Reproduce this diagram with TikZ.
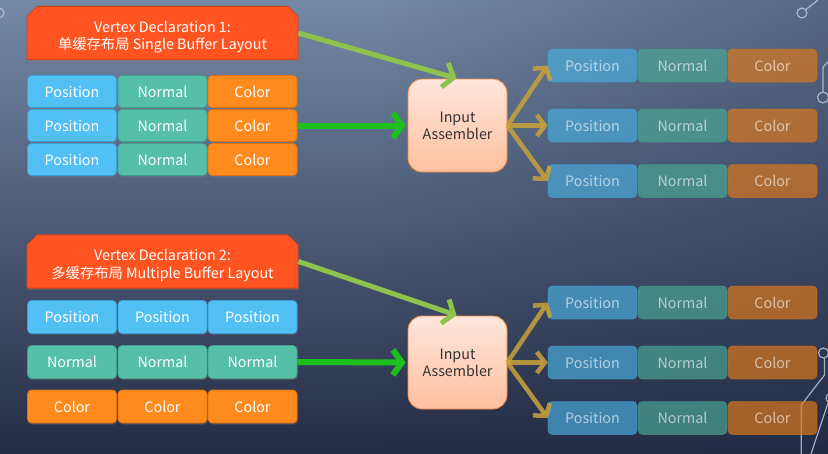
\documentclass[tikz,border=0pt]{standalone}
\usepackage{fontspec}
\setmainfont{Noto Sans CJK SC}
\usetikzlibrary{arrows.meta,shapes.misc,shadows,fadings}
\definecolor{bgtop}{HTML}{7389A6}
\definecolor{bgmid}{HTML}{506586}
\definecolor{bgbot}{HTML}{252C45}
\definecolor{bgdark}{HTML}{1E2948}
\definecolor{hdrfill}{HTML}{FF5421}
\definecolor{hdrdraw}{HTML}{D8401A}
\definecolor{posfill}{HTML}{52C0F4}
\definecolor{posdraw}{HTML}{3AA0D8}
\definecolor{norfill}{HTML}{55BFA8}
\definecolor{nordraw}{HTML}{3FA08C}
\definecolor{colfill}{HTML}{FF8A1D}
\definecolor{coldraw}{HTML}{E07010}
\definecolor{iatop}{HTML}{FFE6DC}
\definecolor{iabot}{HTML}{FFC0A0}
\definecolor{iadraw}{HTML}{F0883C}
\definecolor{arrgreen}{HTML}{1DBF1D}
\definecolor{arrlight}{HTML}{8DC24C}
\definecolor{arrgold}{HTML}{C9A23A}
\definecolor{decocol}{HTML}{B4C8E0}
\tikzfading[name=tordark, left color=transparent!100, right color=transparent!0]
\newcommand{\hdrtext}[2]{\begin{tabular}{@{}c@{}}\rule{0pt}{21pt}#1\\#2\end{tabular}}
\tikzset{
  cellbox/.style={rounded corners=4pt, minimum width=89pt, minimum height=32pt, inner sep=0pt,
    text height=12pt, text depth=0.5pt,
    text=white, font=\fontsize{14.3}{16}\selectfont, line width=0.6pt},
  shad/.style={drop shadow={shadow xshift=0.8pt, shadow yshift=-1.5pt, opacity=0.35}},
  poscell/.style={cellbox, shad, fill=posfill, draw=posdraw},
  norcell/.style={cellbox, shad, fill=norfill, draw=nordraw},
  colcell/.style={cellbox, shad, fill=colfill, draw=coldraw},
  fadedcell/.style={fill opacity=0.68, draw opacity=0.5, text opacity=0.6, minimum height=33pt},
  fposcell/.style={cellbox, fadedcell, fill=posfill!90!black, draw=posdraw},
  fnorcell/.style={cellbox, fadedcell, fill=norfill!88!black, draw=nordraw},
  fcolcell/.style={cellbox, fadedcell, fill=colfill!88!black, draw=coldraw},
  hdrbox/.style={chamfered rectangle, chamfered rectangle corners={north west,north east},
    chamfered rectangle xsep=5pt, chamfered rectangle ysep=5pt, inner sep=0pt,
    minimum width=271pt, minimum height=50pt, fill=hdrfill, draw=hdrdraw, line width=0.8pt,
    text=white, font=\fontsize{14.3}{17}\selectfont,
    drop shadow={shadow xshift=0.8pt, shadow yshift=-2pt, opacity=0.35}},
  iabox/.style={rounded corners=14pt, minimum width=99pt, minimum height=93pt, inner sep=0pt,
    top color=iatop, bottom color=iabot, draw=iadraw, line width=0.8pt,
    text=black!80, align=center, font=\fontsize{14.3}{17}\selectfont},
  garrow/.style={draw=arrgreen, line width=6pt, shorten >=2pt,
    -{Straight Barb[length=9pt,width=25pt]}},
  larrow/.style={draw=arrlight, line width=5pt, shorten >=1pt,
    -{Straight Barb[length=9pt,width=25pt]}},
  oarrow/.style={draw=arrgold, draw opacity=0.85, line width=4.5pt,
    -{Straight Barb[length=8pt,width=21pt]}},
  deco/.style={draw=decocol, draw opacity=0.85, line width=1.2pt}
}
\begin{document}
\begin{tikzpicture}[x=1pt,y=-1pt]
\useasboundingbox (0,0) rectangle (828,453);
% background
\shade[top color=bgtop, middle color=bgmid, bottom color=bgbot] (0,0) rectangle (828,453);
\fill[bgdark, fill opacity=0.35, path fading=tordark] (380,0) rectangle (828,453);
% decorations
\draw[deco] (-1,13) circle (5);
\draw[deco] (802,13) circle (5);
\draw[deco] (806,9.5) -- (818,0);
\draw[deco] (829,61) -- (823,67) -- (823,92);
\draw[deco] (823,97.5) circle (5.5);
\draw[deco] (823.5,353) circle (5);
\draw[deco] (824.5,358) -- (824.5,375) -- (801.3,405) -- (801.3,454);
\draw[deco] (831,398) circle (5);
\draw[deco] (828,403) -- (811,454);
% ===== block 1 =====
\node[hdrbox] (h1) at (162.5,33) {\hdrtext{Vertex Declaration 1:}{单缓存布局 Single Buffer Layout}};
\foreach \y [count=\i] in {91.5,125.5,159.5}{
  \node[poscell] (pa\i) at (72,\y) {Position};
  \node[norcell] (na\i) at (162.5,\y) {Normal};
  \node[colcell] (ca\i) at (252.5,\y) {Color};
}
\node[iabox] (ia1) at (457.5,125.5) {Input\\Assembler};
\foreach \y [count=\i] in {65.5,125.5,181}{
  \node[fposcell] (ra\i) at (592.5,\y) {Position};
  \node[fnorcell] (sa\i) at (682.5,\y) {Normal};
  \node[fcolcell] (ta\i) at (772.5,\y) {Color};
}
\draw[larrow] (h1.east) -- (ia1.north);
\draw[garrow] (ca2.east) -- (ia1.west);
\foreach \i in {1,2,3}{
  \draw[oarrow] (ia1.east) -- (ra\i.west);
}
% ===== block 2 =====
\node[hdrbox] (h2) at (162.5,261.5) {\hdrtext{Vertex Declaration 2:}{多缓存布局 Multiple Buffer Layout}};
\foreach \x [count=\i] in {72,162.5,252.5}{
  \node[poscell, minimum height=33pt] (pb\i) at (\x,317) {Position};
  \node[norcell, minimum height=33pt] (nb\i) at (\x,362) {Normal};
  \node[colcell, minimum height=33pt] (cb\i) at (\x,406.5) {Color};
}
\node[iabox] (ia2) at (457.5,362.5) {Input\\Assembler};
\foreach \y [count=\i] in {302.5,362.5,418}{
  \node[fposcell] (rb\i) at (592.5,\y) {Position};
  \node[fnorcell] (sb\i) at (682.5,\y) {Normal};
  \node[fcolcell] (tb\i) at (772.5,\y) {Color};
}
\draw[larrow] (h2.east) -- (ia2.north);
\draw[garrow] (nb3.east) -- (ia2.west);
\foreach \i in {1,2,3}{
  \draw[oarrow] (ia2.east) -- (rb\i.west);
}
\end{tikzpicture}
\end{document}
